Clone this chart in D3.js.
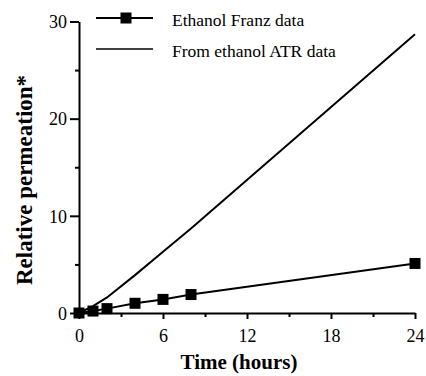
<!DOCTYPE html>
<html>
<head>
<meta charset="utf-8">
<script src="https://cdn.jsdelivr.net/npm/d3@7"></script>
<style>
  body { margin: 0; background: #fff; }
  svg { display: block; }
  text { font-family: "Liberation Serif", "DejaVu Serif", serif; fill: #000; }
</style>
</head>
<body>
<div id="chart"></div>
<script>
// time (hours)
const franzTime = [0, 1, 2, 4, 6, 8, 24];
const franzValues = [0, 0.2, 0.45, 1.0, 1.4, 1.9, 5.1];

const atrTime = [0, 1, 2, 4, 6, 8, 24];
const atrValues = [0, 0.7, 1.6, 3.9, 6.3, 8.7, 28.7];

const xTicks = [0, 6, 12, 18, 24];
const xMinor = [3, 9, 15, 21];
const yTicks = [0, 10, 20, 30];
const yMinor = [5, 15, 25];

const legendLabels = ['Ethanol Franz data', 'From ethanol ATR data'];

const width = 426, height = 376;

const svg = d3.select('#chart').append('svg')
  .attr('width', width)
  .attr('height', height);

const x = d3.scaleLinear().domain([0, 24]).range([79, 415]);
const y = d3.scaleLinear().domain([0, 30]).range([313, 21.5]);

// minor ticks first (no labels)
svg.append('g')
  .attr('transform', `translate(0,${y(0)})`)
  .call(d3.axisBottom(x).tickValues(xMinor).tickSize(4).tickSizeOuter(0).tickFormat(''))
  .call(g => g.select('.domain').remove());

svg.append('g')
  .attr('transform', `translate(${x(0)},0)`)
  .call(d3.axisLeft(y).tickValues(yMinor).tickSize(4).tickSizeOuter(0).tickFormat(''))
  .call(g => g.select('.domain').remove());

const xAxis = svg.append('g')
  .attr('transform', `translate(0,${y(0)})`)
  .call(d3.axisBottom(x).tickValues(xTicks).tickSize(6).tickSizeOuter(0).tickPadding(9));

const yAxis = svg.append('g')
  .attr('transform', `translate(${x(0)},0)`)
  .call(d3.axisLeft(y).tickValues(yTicks).tickSize(9).tickSizeOuter(0).tickPadding(3));

svg.selectAll('.tick line, .domain')
  .attr('stroke', '#000')
  .attr('stroke-width', 2);

xAxis.selectAll('text')
  .style('font-size', '18px')
  .attr('dy', '0.75em');
yAxis.selectAll('text')
  .style('font-size', '18px')
  .attr('dy', '0.35em');
svg.selectAll('.tick text').attr('fill', '#000');

// axis titles
svg.append('text')
  .attr('x', 239)
  .attr('y', 369)
  .attr('text-anchor', 'middle')
  .style('font-size', '21px')
  .style('font-weight', 'bold')
  .text('Time (hours)');

svg.append('text')
  .attr('transform', 'translate(32,180) rotate(-90)')
  .attr('text-anchor', 'middle')
  .style('font-size', '23px')
  .style('font-weight', 'bold')
  .text('Relative permeation*');

const line = d3.line()
  .x(d => x(d[0]))
  .y(d => y(d[1]));

const atrData = atrTime.map((t, i) => [t, atrValues[i]]);
const franzData = franzTime.map((t, i) => [t, franzValues[i]]);

svg.append('path')
  .datum(atrData)
  .attr('d', line)
  .attr('fill', 'none')
  .attr('stroke', '#000')
  .attr('stroke-width', 2);

svg.append('path')
  .datum(franzData)
  .attr('d', line)
  .attr('fill', 'none')
  .attr('stroke', '#000')
  .attr('stroke-width', 2);

const sq = 11;
svg.selectAll('rect.pt')
  .data(franzData)
  .enter()
  .append('rect')
  .attr('class', 'pt')
  .attr('x', d => x(d[0]) - sq / 2)
  .attr('y', d => y(d[1]) - sq / 2)
  .attr('width', sq)
  .attr('height', sq)
  .attr('fill', '#000');

// legend
const legend = svg.append('g');
const legendY = [18, 49];
legendLabels.forEach((label, i) => {
  legend.append('line')
    .attr('x1', 96).attr('x2', 153)
    .attr('y1', legendY[i]).attr('y2', legendY[i])
    .attr('stroke', '#000')
    .attr('stroke-width', i === 0 ? 2 : 1.5);
  legend.append('text')
    .attr('x', 172)
    .attr('y', legendY[i] + 2)
    .attr('dy', '0.35em')
    .style('font-size', '17.5px')
    .text(label);
});
legend.append('rect')
  .attr('x', 126 - sq / 2)
  .attr('y', legendY[0] - sq / 2)
  .attr('width', sq)
  .attr('height', sq)
  .attr('fill', '#000');
</script>
</body>
</html>
